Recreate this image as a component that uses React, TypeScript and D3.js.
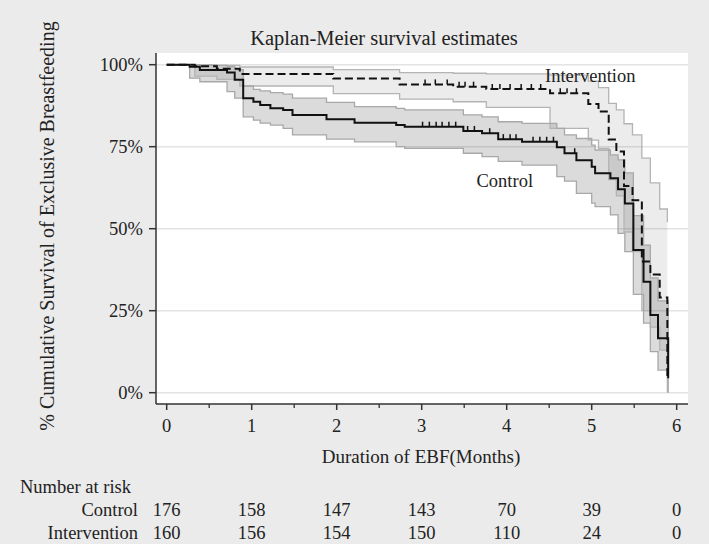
import React from "react";
import * as d3 from "d3";

const months = [0, 1, 2, 3, 4, 5, 6];
const halfMonths = [0.5, 1.5, 2.5, 3.5, 4.5, 5.5];
const yTicks = [0, 0.25, 0.5, 0.75, 1];
const yTickLabels = ["0%", "25%", "50%", "75%", "100%"];

const controlTime = [0, 0.27, 0.39, 0.71, 0.8, 0.9, 1.02, 1.1, 1.22, 1.37, 1.48, 1.88, 2.21, 2.7, 2.8, 3.49, 3.71, 3.9, 4.18, 4.59, 4.68, 4.82, 5.0, 5.04, 5.22, 5.31, 5.39, 5.49, 5.61, 5.69, 5.78, 5.9];
const controlSurv = [1, 0.994, 0.984, 0.976, 0.954, 0.898, 0.887, 0.877, 0.867, 0.862, 0.847, 0.834, 0.823, 0.816, 0.811, 0.798, 0.791, 0.773, 0.765, 0.748, 0.73, 0.709, 0.689, 0.669, 0.654, 0.62, 0.577, 0.435, 0.338, 0.237, 0.166, 0.044];
const controlLower = [1, 0.959, 0.948, 0.918, 0.898, 0.841, 0.831, 0.822, 0.816, 0.806, 0.786, 0.773, 0.765, 0.75, 0.745, 0.73, 0.72, 0.705, 0.694, 0.659, 0.645, 0.608, 0.578, 0.567, 0.542, 0.486, 0.43, 0.3, 0.212, 0.125, 0.069, 0.0];
const controlUpper = [1, 1, 0.998, 0.994, 0.985, 0.935, 0.925, 0.92, 0.915, 0.91, 0.898, 0.885, 0.872, 0.867, 0.862, 0.847, 0.841, 0.826, 0.821, 0.806, 0.786, 0.775, 0.755, 0.74, 0.725, 0.71, 0.67, 0.54, 0.45, 0.35, 0.28, 0.12];
const controlCensor = [3.01, 3.09, 3.17, 3.24, 3.32, 3.4, 3.54, 3.62, 3.8, 3.96, 4.04, 4.11, 4.31, 4.39, 4.47, 4.55, 4.8];

const interventionTime = [0, 0.33, 0.59, 0.86, 1.96, 2.74, 3.37, 3.76, 4.51, 4.96, 5.08, 5.2, 5.29, 5.38, 5.48, 5.59, 5.69, 5.8, 5.89];
const interventionSurv = [1, 0.995, 0.988, 0.972, 0.958, 0.94, 0.933, 0.926, 0.913, 0.88, 0.857, 0.772, 0.735, 0.63, 0.587, 0.4, 0.36, 0.29, 0.05];
const interventionLower = [1, 0.965, 0.955, 0.935, 0.912, 0.895, 0.887, 0.87, 0.806, 0.77, 0.745, 0.65, 0.6, 0.49, 0.43, 0.25, 0.2, 0.13, 0.0];
const interventionUpper = [1, 1, 0.998, 0.993, 0.985, 0.976, 0.974, 0.972, 0.968, 0.95, 0.93, 0.882, 0.862, 0.82, 0.786, 0.715, 0.64, 0.56, 0.52];
const interventionCensor = [3.04, 3.16, 3.3, 3.44, 3.51, 3.61, 3.83, 3.92, 4.04, 4.17, 4.29, 4.4, 4.63, 4.71, 4.82];

const riskControl = [176, 158, 147, 143, 70, 39, 0];
const riskIntervention = [160, 156, 154, 150, 110, 24, 0];

const FONT = "'Liberation Serif', 'Times New Roman', serif";

function stepValue(times: number[], vals: number[], t: number) {
  let v = vals[0];
  for (let i = 0; i < times.length; i++) if (times[i] <= t) v = vals[i];
  return v;
}

export default function App() {
  const W = 709, H = 544;
  const x = d3.scaleLinear().domain([0, 6]).range([166.7, 676.7]);
  const y = d3.scaleLinear().domain([0, 1]).range([392.7, 64.7]);
  const plot = { l: 156, r: 688, t: 53, b: 404 };

  const line = (times: number[], vals: number[]) =>
    d3.line<number>().x((_, i) => x(times[i])).y((d) => y(d)).curve(d3.curveStepAfter)(vals) || "";
  const band = (times: number[], lo: number[], hi: number[]) =>
    d3.area<number>().x((_, i) => x(times[i])).y0((_, i) => y(lo[i])).y1((d) => y(d)).curve(d3.curveStepAfter)(hi) || "";

  const fs = 18.5;
  return (
    <svg width={W} height={H} style={{ position: "absolute", left: 0, top: 0 }} fontFamily={FONT}>
      <rect x={0} y={0} width={W} height={H} fill="#ebebeb" />
      <rect x={plot.l} y={plot.t} width={plot.r - plot.l} height={plot.b - plot.t} fill="#ffffff" />
      {yTicks.map((t) => (
        <line key={t} x1={plot.l} x2={plot.r} y1={y(t)} y2={y(t)} stroke="#e3e3e3" strokeWidth={1.5} />
      ))}
      {/* CI bands */}
      <path d={band(interventionTime, interventionLower, interventionUpper)} fill="#000" fillOpacity={0.075} />
      <path d={band(controlTime, controlLower, controlUpper)} fill="#000" fillOpacity={0.14} />
      <path d={line(interventionTime, interventionLower)} fill="none" stroke="#b4b4b4" strokeWidth={1.3} />
      <path d={line(interventionTime, interventionUpper)} fill="none" stroke="#b4b4b4" strokeWidth={1.3} />
      <path d={line(controlTime, controlLower)} fill="none" stroke="#a8a8a8" strokeWidth={1.3} />
      <path d={line(controlTime, controlUpper)} fill="none" stroke="#a8a8a8" strokeWidth={1.3} />
      {/* survival curves */}
      <path d={line(interventionTime, interventionSurv)} fill="none" stroke="#111" strokeWidth={2} strokeDasharray="8,4" />
      <path d={line(controlTime, controlSurv)} fill="none" stroke="#111" strokeWidth={2} />
      {interventionCensor.map((t, i) => {
        const yy = y(stepValue(interventionTime, interventionSurv, t));
        return <line key={"ic" + i} x1={x(t)} x2={x(t)} y1={yy} y2={yy - 5} stroke="#111" strokeWidth={1.5} />;
      })}
      {controlCensor.map((t, i) => {
        const yy = y(stepValue(controlTime, controlSurv, t));
        return <line key={"cc" + i} x1={x(t)} x2={x(t)} y1={yy} y2={yy - 5} stroke="#111" strokeWidth={1.5} />;
      })}
      <text x={545} y={82} fontSize={fs} fill="#222">Intervention</text>
      <text x={476.5} y={187} fontSize={fs} fill="#222">Control</text>
      {/* axes */}
      <line x1={plot.l} x2={plot.l} y1={plot.t} y2={plot.b} stroke="#333" strokeWidth={1.5} />
      <line x1={plot.l} x2={plot.r} y1={plot.b} y2={plot.b} stroke="#333" strokeWidth={1.5} />
      {yTicks.map((t, i) => (
        <g key={"yt" + t}>
          <line x1={plot.l - 7} x2={plot.l} y1={y(t)} y2={y(t)} stroke="#333" strokeWidth={1.5} />
          <text x={143} y={y(t)} dy="0.35em" textAnchor="end" fontSize={fs} fill="#222">{yTickLabels[i]}</text>
        </g>
      ))}
      {months.map((m) => (
        <g key={"xt" + m}>
          <line x1={x(m)} x2={x(m)} y1={plot.b} y2={plot.b + 6} stroke="#333" strokeWidth={1.5} />
          <text x={x(m)} y={432} textAnchor="middle" fontSize={fs} fill="#222">{m}</text>
        </g>
      ))}
      {halfMonths.map((m) => (
        <line key={"hm" + m} x1={x(m)} x2={x(m)} y1={plot.b} y2={plot.b + 4} stroke="#333" strokeWidth={1.3} />
      ))}
      <text x={421} y={463} textAnchor="middle" fontSize={19} fill="#222">Duration of EBF(Months)</text>
      <text transform={`translate(54,226) rotate(-90)`} textAnchor="middle" fontSize={20} fill="#222">
        % Cumulative Survival of Exclusive Breastfeeding
      </text>
      <text x={384} y={45} textAnchor="middle" fontSize={20.5} fill="#222">Kaplan-Meier survival estimates</text>
      {/* risk table */}
      <text x={20} y={493} fontSize={fs} fill="#222">Number at risk</text>
      <text x={138} y={516} textAnchor="end" fontSize={fs} fill="#222">Control</text>
      <text x={138} y={539} textAnchor="end" fontSize={fs} fill="#222">Intervention</text>
      {months.map((m, i) => (
        <g key={"rk" + m}>
          <text x={x(m)} y={516} textAnchor="middle" fontSize={fs} fill="#222">{riskControl[i]}</text>
          <text x={x(m)} y={539} textAnchor="middle" fontSize={fs} fill="#222">{riskIntervention[i]}</text>
        </g>
      ))}
    </svg>
  );
}
